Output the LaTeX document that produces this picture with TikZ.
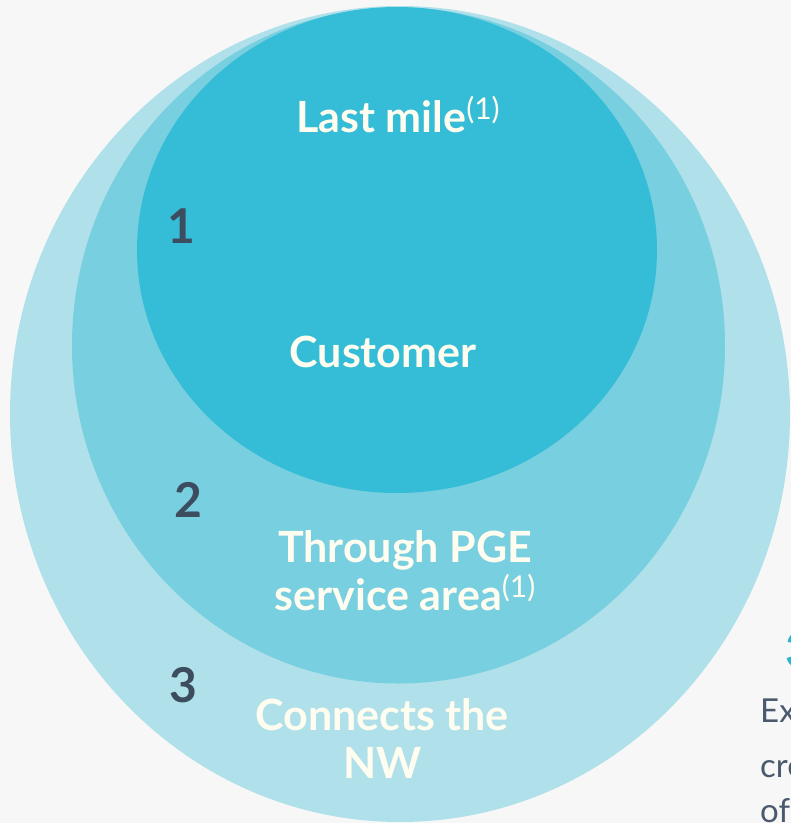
\documentclass[tikz,border=0pt]{standalone}
\usepackage{fontspec}
\setmainfont{Lato}
\definecolor{bg}{RGB}{247,247,247}
\definecolor{outerc}{RGB}{176,225,234}
\definecolor{midc}{RGB}{120,207,224}
\definecolor{innerc}{RGB}{53,188,214}
\definecolor{labc}{RGB}{255,253,240}
\definecolor{numc}{RGB}{61,77,96}
\definecolor{bodyc}{RGB}{74,90,108}
\definecolor{accent}{RGB}{41,182,212}
\newcommand\fnref{\raisebox{13pt}{\fontsize{30}{30}\selectfont\mdseries(1)}}
\tikzset{
  lab/.style={text=labc, font=\fontsize{43}{48}\selectfont\bfseries, inner sep=0pt, anchor=base},
  num/.style={text=numc, font=\fontsize{48}{50}\selectfont\bfseries, inner sep=0pt, anchor=base},
  body/.style={text=bodyc, font=\fontsize{33}{40}\selectfont, inner sep=0pt, anchor=base west},
}
\begin{document}
\begin{tikzpicture}[x=1pt,y=-1pt]
\useasboundingbox (0,0) rectangle (791,823);
\clip (0,0) rectangle (791,823);
\fill[bg] (0,0) rectangle (791,823);
\fill[outerc] (400,414) ellipse [x radius=390, y radius=408];
\fill[midc] (398.5,345.5) ellipse [x radius=326.5, y radius=338];
\fill[innerc] (397,250) ellipse [x radius=260, y radius=243];
\node[lab] (last) at (398,132) {Last mile\fnref};
\node[lab] (cust) at (383,367) {Customer};
\node[lab] (thr1) at (405,562) {Through PGE};
\node[lab] (thr2) at (405,610) {service area\fnref};
\node[lab] (con1) at (382,730) {Connects the};
\node[lab] (con2) at (383,778) {NW};
\node[num] (n1) at (181,243) {1};
\node[num] (n2) at (188,517) {2};
\node[num] (n3) at (183,702) {3};
\node[num, text=accent, anchor=base west] (n3r) at (785,667) {3};
\node[body] (ex) at (760,722) {Ex};
\node[body] (cre) at (760,777) {cre};
\node[body] (of) at (760,822) {of};
\end{tikzpicture}
\end{document}
